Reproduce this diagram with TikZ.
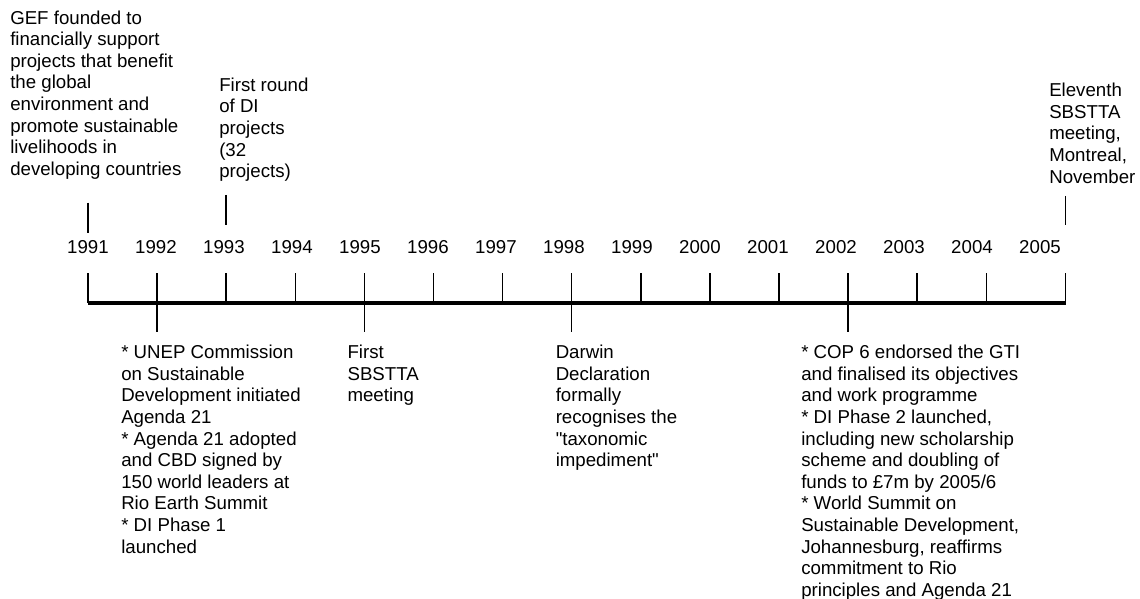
\documentclass[tikz,border=0pt]{standalone}
\usepackage{fontspec}
\setmainfont{Liberation Sans}[Ligatures=TeXOff]
\newcommand{\evfont}{\fontsize{14}{16.2}\selectfont}
\tikzset{
	tick/.style={line width=1.1pt},
	axis/.style={line width=3.4pt},
	year/.style={anchor=base, inner sep=0pt, font=\evfont},
	event/.style={anchor=north west, inner sep=0pt, align=left, font=\evfont}
}
\begin{document}
\begin{tikzpicture}[x=0.75pt,y=-0.75pt]
\useasboundingbox (0,0) rectangle (1140,599);
\foreach \yr/\tx/\lx in {1991/88/88, 1992/157.1/156, 1993/226.2/224, 1994/295.3/292,
	1995/364.4/360, 1996/433.5/428, 1997/502.6/496, 1998/571.7/564, 1999/640.8/632,
	2000/709.9/700, 2001/779/768, 2002/848.1/836, 2003/917.2/904, 2004/986.3/972,
	2005/1065.7/1040}{
	\coordinate (a\yr) at (\tx,303);
	\coordinate (u\yr) at (\tx,272.7);
	\node[year] (y\yr) at (\lx,254) {\yr};
}
\draw[axis] (a1991) -- (a2005);
\foreach \yr in {1991,...,2005}
	\draw[tick] (a\yr) -- (u\yr);

\coordinate (d1992) at (157.1,332.3);
\coordinate (d1995) at (364.4,332.3);
\coordinate (d1998) at (571.7,332.3);
\coordinate (d2002) at (848.1,332.3);
\draw[tick] (a1992) -- (d1992)
	  (a1995) -- (d1995)
	  (a1998) -- (d1998)
	  (a2002) -- (d2002);

\coordinate (m1991a) at (88,202.7);
\coordinate (m1991b) at (88,232.7);
\coordinate (m1993a) at (226.2,195);
\coordinate (m1993b) at (226.2,225);
\coordinate (m2005a) at (1065.7,196);
\coordinate (m2005b) at (1065.7,225);
\draw[tick] (m1991a) -- (m1991b)
	  (m1993a) -- (m1993b)
	  (m2005a) -- (m2005b);

\node[event] (gef) at (10,10.4) {GEF founded to\\financially support\\projects that benefit\\the global\\environment and\\promote sustainable\\livelihoods in\\developing countries};
\node[event] (diround) at (219,77.5) {First round\\of DI\\projects\\(32\\projects)};
\node[event] (sbeleven) at (1049,83) {Eleventh\\SBSTTA\\meeting,\\Montreal,\\November};
\node[event] (unep) at (121,345) {* UNEP Commission\\on Sustainable\\Development initiated\\Agenda 21\\* Agenda 21 adopted\\and CBD signed by\\150 world leaders at\\Rio Earth Summit\\* DI Phase 1\\launched};
\node[event] (sbfirst) at (347.3,345) {First\\SBSTTA\\meeting};
\node[event] (darwin) at (555.5,345) {Darwin\\Declaration\\formally\\recognises the\\"taxonomic\\impediment"};
\node[event] (cop) at (801,345) {* COP 6 endorsed the GTI\\and finalised its objectives\\and work programme\\* DI Phase 2 launched,\\including new scholarship\\scheme and doubling of\\funds to £7m by 2005/6\\* World Summit on\\Sustainable Development,\\Johannesburg, reaffirms\\commitment to Rio\\principles and Agenda 21};
\end{tikzpicture}
\end{document}
